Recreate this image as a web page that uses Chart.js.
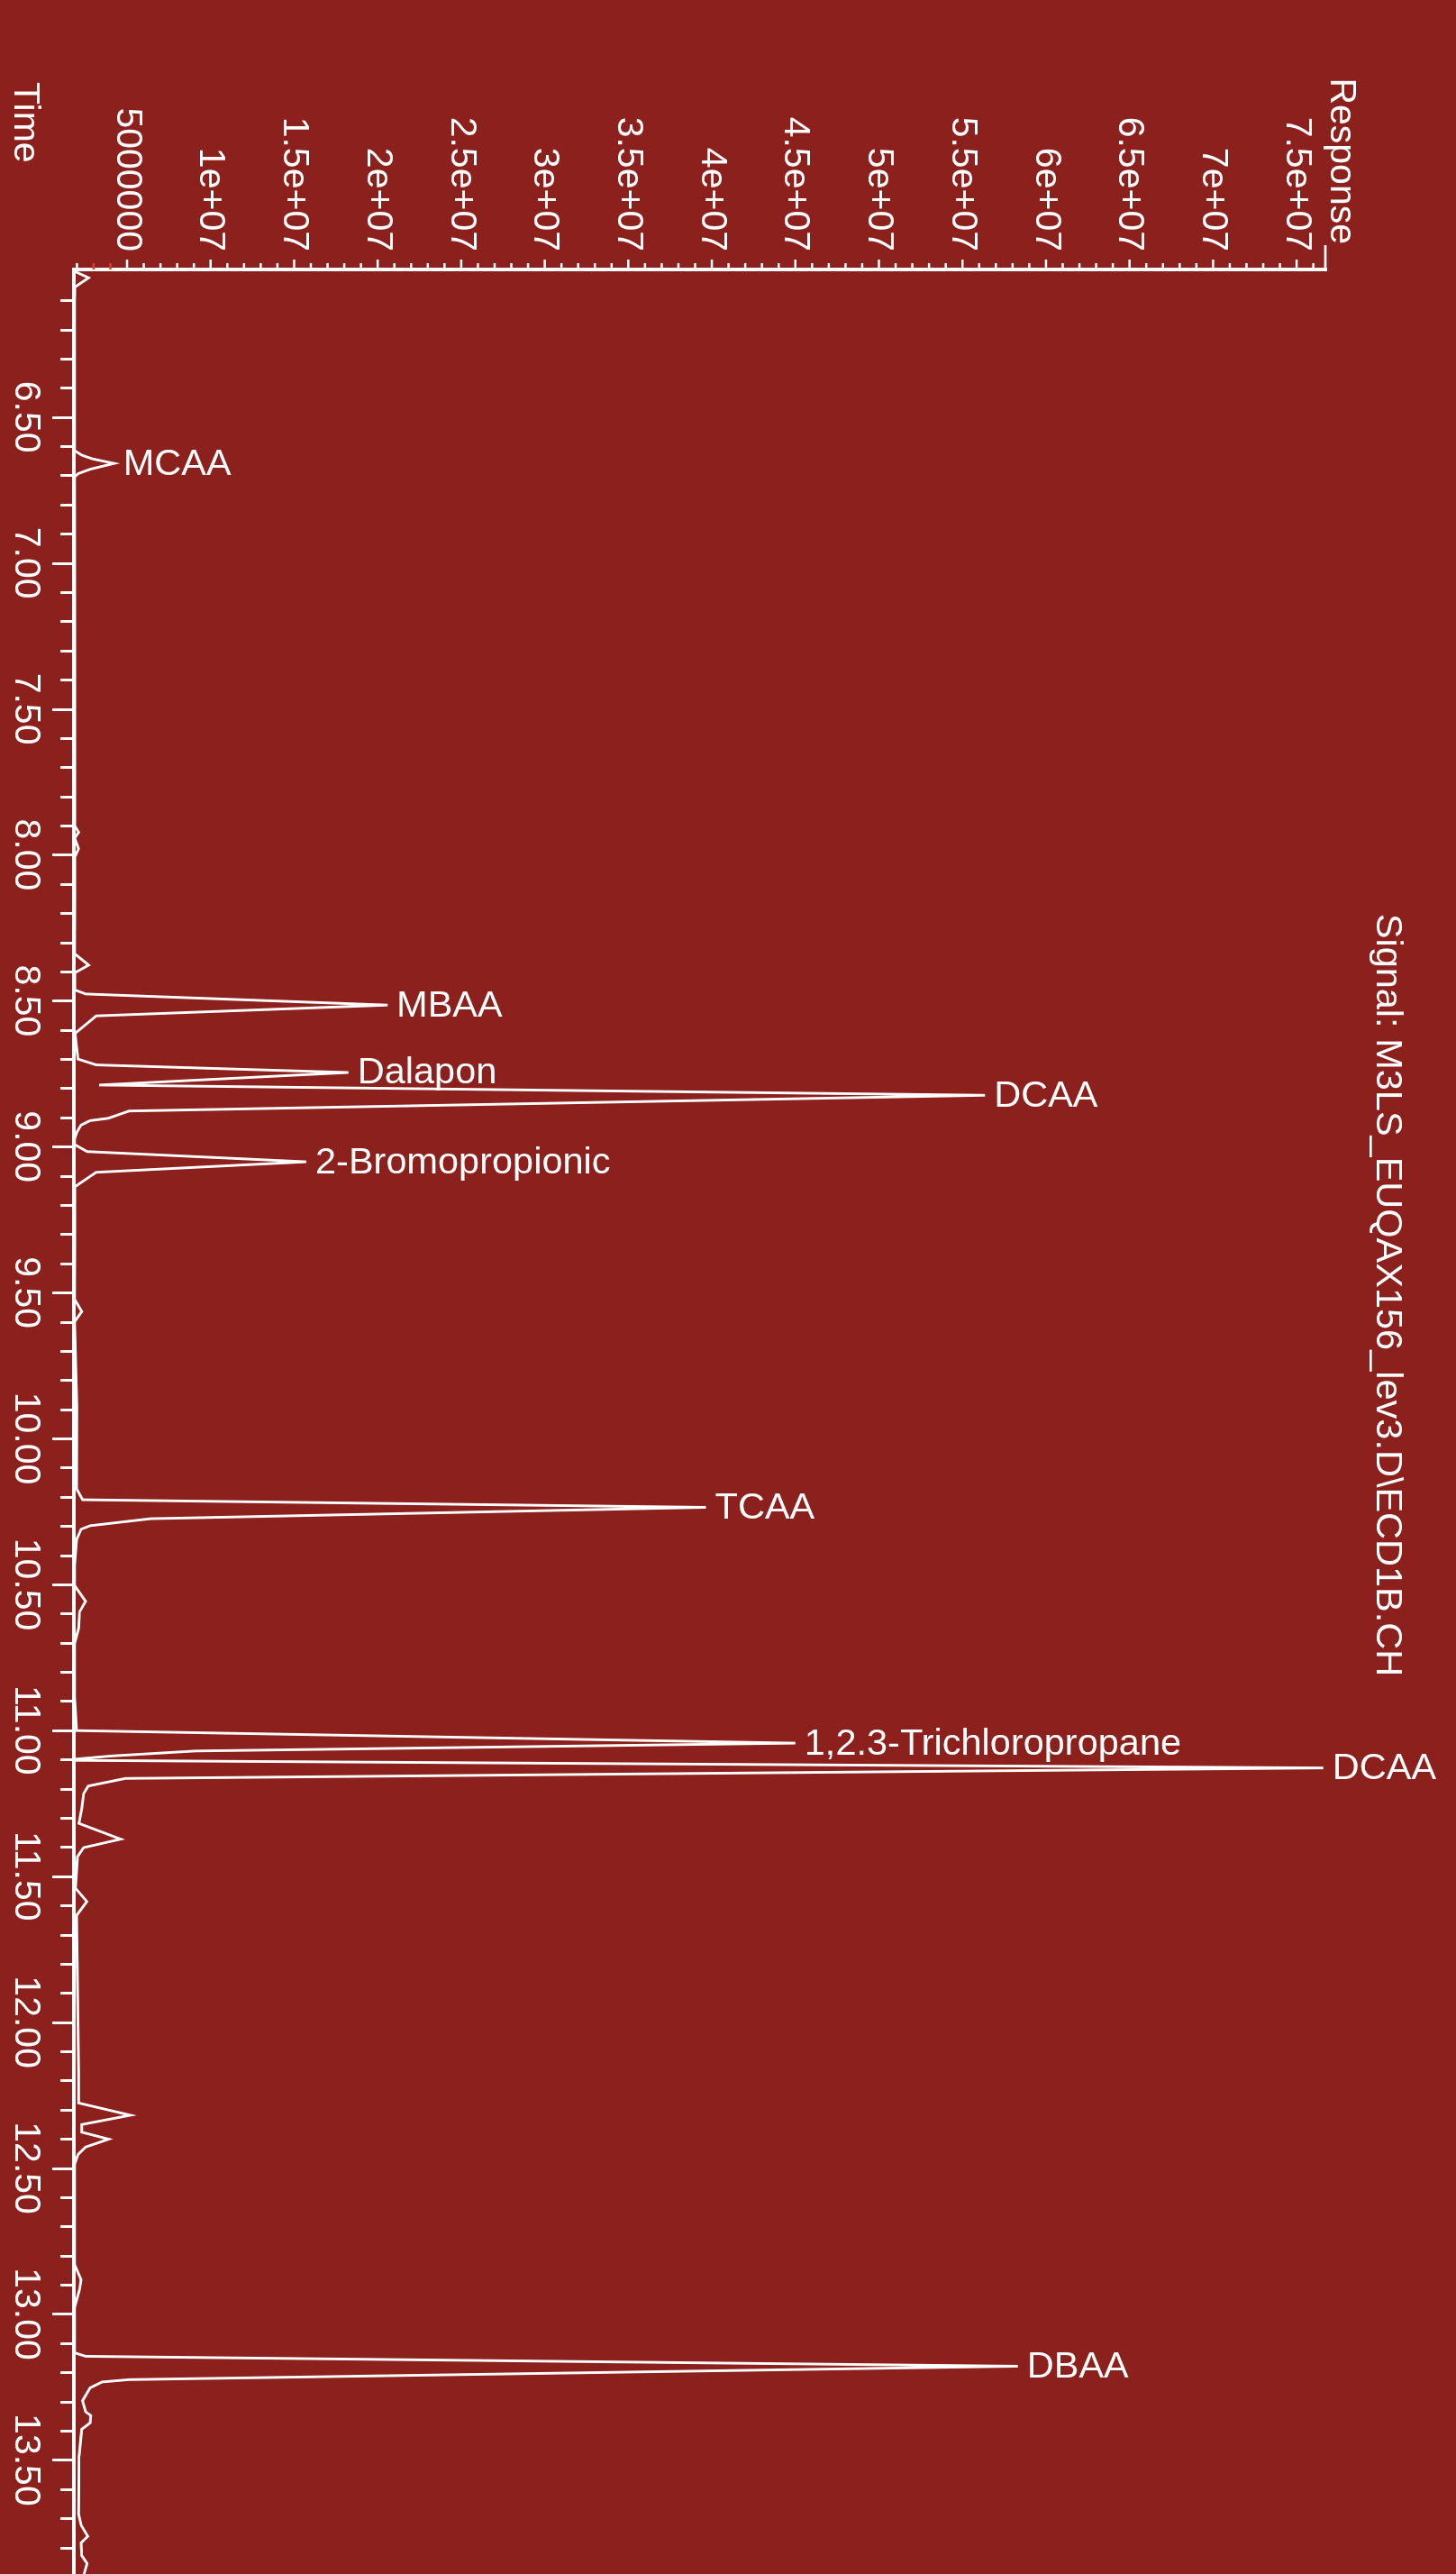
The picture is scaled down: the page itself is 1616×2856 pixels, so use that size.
<!DOCTYPE html>
<html>
<head>
<meta charset="utf-8">
<title>Signal: M3LS_EUQAX156_lev3.D\ECD1B.CH</title>
<script src="https://cdn.jsdelivr.net/npm/chart.js@4.4.1/dist/chart.umd.min.js"></script>
<style>
  html, body { margin: 0; padding: 0; width: 1616px; height: 2856px; overflow: hidden; background: #8b201d; }
  /* The chromatogram is laid out landscape and turned a quarter turn clockwise */
  #frame { position: absolute; left: 0; top: 0; width: 2856px; height: 1616px;
           transform-origin: 0 0; transform: translateX(1616px) rotate(90deg); }
  canvas { display: block; }
</style>
</head>
<body>
<div id="frame"><canvas id="chrom" width="2856" height="1616"></canvas></div>
<script>
// ECD trace: retention time (min) and detector response (counts)
const retentionTimes = [
  6.000, 6.023, 6.054, 6.100, 6.615, 6.631, 6.644, 6.659, 6.679, 6.694, 6.705,
  7.300, 7.902, 7.923, 7.943, 7.979, 8.005, 8.339, 8.378, 8.404,
  8.463, 8.477, 8.515, 8.552, 8.612, 8.700, 8.720, 8.746, 8.789, 8.824,
  8.878, 8.903, 8.911, 8.926, 8.952, 8.973, 8.993, 9.017, 9.052, 9.088, 9.137,
  9.523, 9.565, 9.600, 9.889, 10.172, 10.210, 10.236, 10.275, 10.299, 10.311, 10.347,
  10.434, 10.504, 10.558, 10.594, 10.651, 10.702, 10.887, 11.001, 11.044, 11.071,
  11.088, 11.099, 11.103, 11.129, 11.165, 11.191, 11.217, 11.268, 11.319, 11.373,
  11.402, 11.433, 11.541, 11.587, 11.634, 12.175, 12.277, 12.319, 12.346, 12.351,
  12.377, 12.401, 12.428, 12.453, 12.486, 12.830, 12.883, 12.915, 12.977, 13.133,
  13.145, 13.179, 13.225, 13.233, 13.253, 13.297, 13.335, 13.348, 13.373, 13.395,
  13.488, 13.686, 13.724, 13.762, 13.784, 13.828, 13.855, 13.891
];
const responses = [
  1.83e6, 2.70e6, 1.89e6, 1.86e6, 1.86e6, 2.30e6, 2.97e6, 4.23e6, 2.79e6, 2.07e6, 1.86e6,
  1.87e6, 1.89e6, 2.10e6, 1.86e6, 2.10e6, 1.89e6, 1.86e6, 2.70e6, 1.89e6,
  1.87e6, 2.52e6, 20.59e6, 3.15e6, 1.89e6, 2.07e6, 3.15e6, 18.25e6, 3.33e6, 56.35e6,
  5.12e6, 3.87e6, 2.79e6, 2.25e6, 1.98e6, 1.86e6, 1.86e6, 2.61e6, 15.73e6, 3.15e6, 1.89e6,
  1.86e6, 2.29e6, 1.86e6, 2.00e6, 1.98e6, 2.34e6, 39.65e6, 6.39e6, 2.79e6, 2.25e6, 1.98e6,
  1.86e6, 1.86e6, 2.52e6, 2.16e6, 2.10e6, 1.86e6, 1.86e6, 1.98e6, 45.0e6, 9.07e6,
  4.07e6, 1.86e6, 1.86e6, 76.60e6, 4.90e6, 2.68e6, 2.40e6, 2.29e6, 2.12e6, 4.62e6,
  2.40e6, 2.03e6, 1.91e6, 2.60e6, 1.98e6, 2.10e6, 2.10e6, 5.20e6, 2.74e6, 2.29e6,
  2.29e6, 3.90e6, 2.52e6, 2.07e6, 1.86e6, 1.86e6, 2.25e6, 2.16e6, 1.86e6, 1.86e6,
  2.52e6, 58.32e6, 5.12e6, 3.51e6, 2.79e6, 2.34e6, 2.52e6, 2.83e6, 2.79e6, 2.29e6,
  2.13e6, 2.10e6, 2.25e6, 2.65e6, 2.25e6, 2.29e6, 2.61e6, 2.43e6
];

// Identified compounds and their retention times (min)
const peakNames = ['MCAA', 'MBAA', 'Dalapon', 'DCAA', '2-Bromopropionic', 'TCAA',
                   '1,2.3-Trichloropropane', 'DCAA', 'DBAA'];
const peakTimes = [6.659, 8.515, 8.746, 8.824, 9.052, 10.236, 11.044, 11.129, 13.179];

// Axis ticks and their labels
const timeMajorTicks = [6.5, 7.0, 7.5, 8.0, 8.5, 9.0, 9.5, 10.0, 10.5, 11.0, 11.5, 12.0, 12.5, 13.0, 13.5];
const timeTickLabels = ['6.50', '7.00', '7.50', '8.00', '8.50', '9.00', '9.50', '10.00',
                        '10.50', '11.00', '11.50', '12.00', '12.50', '13.00', '13.50'];
const responseMajorTicks = [5e6, 1e7, 1.5e7, 2e7, 2.5e7, 3e7, 3.5e7, 4e7, 4.5e7, 5e7, 5.5e7, 6e7, 6.5e7, 7e7, 7.5e7];
const responseTickLabels = ['5000000', '1e+07', '1.5e+07', '2e+07', '2.5e+07', '3e+07', '3.5e+07',
                            '4e+07', '4.5e+07', '5e+07', '5.5e+07', '6e+07', '6.5e+07', '7e+07', '7.5e+07'];
const responseMarkedTicks = [3e6, 4e6];

const FONT = "'Liberation Sans', Arial, Helvetica, sans-serif";
const INK = '#ffffff';
const MARK_RED = '#e23d2d';

// every 0.1 min and every 1e6 counts gets a tick mark
const timeTicks = [];
for (let i = 61; i <= 138; i++) timeTicks.push(i / 10);
const responseTicks = [];
for (let i = 2; i <= 76; i++) responseTicks.push(i * 1e6);

const near = (a, b, eps) => Math.abs(a - b) < eps;
const isTimeMajor = v => timeMajorTicks.some(m => near(m, v, 1e-6));
const isResponseMajor = v => responseMajorTicks.some(m => near(m, v, 1));

const decorations = {
  id: 'decorations',
  afterDraw(chart) {
    const ctx = chart.ctx;
    const area = chart.chartArea;
    const xs = chart.scales.x, ys = chart.scales.y;
    ctx.save();
    ctx.lineCap = 'butt';

    // time axis tick marks
    ctx.strokeStyle = INK;
    ctx.lineWidth = 3;
    timeTicks.forEach(t => {
      const px = Math.round(xs.getPixelForValue(t)) + 0.5;
      const len = isTimeMajor(t) ? 24 : 15;
      ctx.beginPath();
      ctx.moveTo(px, area.bottom);
      ctx.lineTo(px, area.bottom + len);
      ctx.stroke();
    });

    // response axis tick marks
    ctx.lineWidth = 2.5;
    responseTicks.forEach(v => {
      const py = ys.getPixelForValue(v);
      const len = isResponseMajor(v) ? 11 : 7;
      ctx.strokeStyle = responseMarkedTicks.some(m => near(m, v, 1)) ? MARK_RED : INK;
      ctx.beginPath();
      ctx.moveTo(area.left - len, py);
      ctx.lineTo(area.left, py);
      ctx.stroke();
    });
    // end stop at the top of the response axis
    ctx.strokeStyle = INK;
    ctx.lineWidth = 2.7;
    ctx.beginPath();
    ctx.moveTo(area.left - 27, area.top);
    ctx.lineTo(area.left + 1, area.top);
    ctx.stroke();

    ctx.fillStyle = INK;
    // peak labels, read along the response direction
    ctx.font = '41.5px ' + FONT;
    peakNames.forEach((name, k) => {
      let best = 0;
      retentionTimes.forEach((t, i) => {
        if (Math.abs(t - peakTimes[k]) < Math.abs(retentionTimes[best] - peakTimes[k])) best = i;
      });
      const px = xs.getPixelForValue(retentionTimes[best]);
      const py = ys.getPixelForValue(responses[best]);
      ctx.save();
      ctx.translate(px, py - 10);
      ctx.rotate(-Math.PI / 2);
      ctx.textAlign = 'left';
      ctx.textBaseline = 'middle';
      ctx.fillText(name, 0, 1);
      ctx.restore();
    });

    // axis names
    ctx.font = '41px ' + FONT;
    ctx.textBaseline = 'alphabetic';
    ctx.textAlign = 'right';
    ctx.fillText('Response', area.left - 28, area.top - 6);
    ctx.textAlign = 'left';
    ctx.fillText('Time', 91, area.bottom + 66);

    // signal name
    ctx.font = '41.5px ' + FONT;
    ctx.textAlign = 'center';
    ctx.fillText('Signal: M3LS_EUQAX156_lev3.D\\ECD1B.CH', 1437, 88);
    ctx.restore();
  }
};

new Chart(document.getElementById('chrom'), {
  type: 'scatter',
  data: {
    datasets: [{
      data: retentionTimes.map((t, i) => ({ x: t, y: responses[i] })),
      showLine: true,
      borderColor: INK,
      borderWidth: 2.9,
      pointRadius: 0,
      pointHoverRadius: 0,
      tension: 0,
      fill: false
    }]
  },
  options: {
    responsive: false,
    animation: false,
    devicePixelRatio: 1,
    events: [],
    layout: { padding: { left: 0, right: 0, top: 145, bottom: 0 } },
    plugins: {
      legend: { display: false },
      tooltip: { enabled: false },
      title: { display: false }
    },
    scales: {
      x: {
        type: 'linear',
        position: 'bottom',
        min: 5.9944,
        max: 13.891,
        afterFit(scale) { scale.height = 82; },
        afterBuildTicks(scale) { scale.ticks = timeTicks.map(v => ({ value: v })); },
        ticks: {
          autoSkip: false, maxRotation: 0, minRotation: 0, padding: 5,
          color: INK, font: { family: FONT, size: 41 },
          callback(value) {
            const i = timeMajorTicks.findIndex(m => near(m, value, 1e-6));
            return i >= 0 ? timeTickLabels[i] : '';
          }
        },
        grid: { drawOnChartArea: false, drawTicks: true, tickLength: 24, tickColor: 'rgba(0,0,0,0)' },
        border: { display: true, color: INK, width: 4 }
      },
      y: {
        type: 'linear',
        position: 'left',
        min: 1.818e6,
        max: 76.72e6,
        afterFit(scale) { scale.width = 299; },
        afterBuildTicks(scale) { scale.ticks = responseTicks.map(v => ({ value: v })); },
        ticks: {
          autoSkip: false, padding: 9,
          color: INK, font: { family: FONT, size: 41 },
          callback(value) {
            const i = responseMajorTicks.findIndex(m => near(m, value, 1));
            return i >= 0 ? responseTickLabels[i] : '';
          }
        },
        grid: { drawOnChartArea: false, drawTicks: true, tickLength: 11, tickColor: 'rgba(0,0,0,0)' },
        border: { display: true, color: INK, width: 4 }
      }
    }
  },
  plugins: [decorations]
});
</script>
</body>
</html>
